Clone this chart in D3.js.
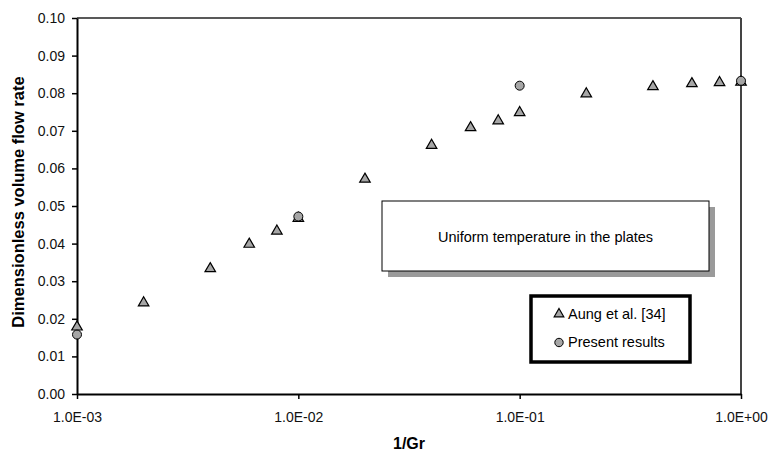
<!DOCTYPE html>
<html>
<head>
<meta charset="utf-8">
<script src="https://cdn.jsdelivr.net/npm/d3@7"></script>
<style>
  body { margin: 0; background: #fff; }
  svg { display: block; font-family: Arial, "Liberation Sans", sans-serif; }
</style>
</head>
<body>
<svg></svg>
<script>
// 1/Gr values for both series
var aungX = [0.001, 0.002, 0.004, 0.006, 0.008, 0.01, 0.02, 0.04, 0.06, 0.08, 0.1, 0.2, 0.4, 0.6, 0.8, 1.0];
var aungY = [0.0181, 0.0245, 0.0336, 0.0401, 0.0436, 0.0470, 0.0574, 0.0664, 0.0711, 0.0729, 0.0751, 0.0801, 0.0820, 0.0828, 0.0831, 0.0832];
var presentX = [0.001, 0.01, 0.1, 1.0];
var presentY = [0.0158, 0.0472, 0.0820, 0.0833];

var xTicks = [0.001, 0.01, 0.1, 1];
var xTickLabels = ["1.0E-03", "1.0E-02", "1.0E-01", "1.0E+00"];
var yTicks = [0, 0.01, 0.02, 0.03, 0.04, 0.05, 0.06, 0.07, 0.08, 0.09, 0.10];

var legendLabels = ["Aung et al. [34]", "Present results"];
var noteText = "Uniform temperature in the plates";

var svgWidth = 771, svgHeight = 453;
var margin = { top: 18, right: 30, bottom: 59, left: 77 };
var width = svgWidth - margin.left - margin.right;
var height = svgHeight - margin.top - margin.bottom;
var font = "Arial, 'Liberation Sans', sans-serif";

var svg = d3.select("svg")
    .attr("width", svgWidth)
    .attr("height", svgHeight);

var g = svg.append("g")
    .attr("transform", "translate(" + margin.left + "," + margin.top + ")");

var x = d3.scaleLog().domain([0.001, 1]).range([0, width]);
var y = d3.scaleLinear().domain([0, 0.1]).range([height, 0]);

// frame top/right
g.append("line").attr("x1", 0).attr("x2", width).attr("y1", 0).attr("y2", 0)
    .attr("stroke", "#222").attr("stroke-width", 1.5);
g.append("line").attr("x1", width).attr("x2", width).attr("y1", 0).attr("y2", height)
    .attr("stroke", "#444").attr("stroke-width", 2);

// x axis
var xAxis = g.append("g")
    .attr("transform", "translate(0," + height + ")")
    .call(d3.axisBottom(x).tickValues(xTicks)
        .tickFormat(function(d, i) { return xTickLabels[i]; })
        .tickSize(5).tickSizeOuter(0).tickPadding(13));
xAxis.select(".domain").attr("stroke-width", 2);
xAxis.selectAll(".tick line").attr("stroke-width", 1.5);
xAxis.selectAll("text").attr("font-size", 14).attr("font-family", font).attr("fill", "#111");

// y axis
var yAxis = g.append("g")
    .call(d3.axisLeft(y).tickValues(yTicks)
        .tickFormat(d3.format(".2f"))
        .tickSize(5).tickSizeOuter(0).tickPadding(7));
yAxis.select(".domain").attr("stroke-width", 2);
yAxis.selectAll(".tick line").attr("stroke-width", 1.5);
yAxis.selectAll("text").attr("font-size", 14).attr("font-family", font).attr("fill", "#111");

// axis titles
svg.append("text")
    .attr("x", margin.left + width / 2)
    .attr("y", 449)
    .attr("text-anchor", "middle")
    .attr("font-size", 16)
    .attr("font-weight", "bold")
    .text("1/Gr");

svg.append("text")
    .attr("transform", "translate(24,202) rotate(-90)")
    .attr("text-anchor", "middle")
    .attr("font-size", 16.5)
    .attr("font-weight", "bold")
    .text("Dimensionless volume flow rate");

// note box with shadow
var nb = { x: 382, y: 201, w: 327, h: 70 };
svg.append("rect").attr("x", nb.x + 6).attr("y", nb.y + 6).attr("width", nb.w).attr("height", nb.h)
    .attr("fill", "#9a9a9a");
svg.append("rect").attr("x", nb.x).attr("y", nb.y).attr("width", nb.w).attr("height", nb.h)
    .attr("fill", "#fff").attr("stroke", "#000").attr("stroke-width", 1);
svg.append("text")
    .attr("x", nb.x + nb.w / 2).attr("y", 241.5)
    .attr("text-anchor", "middle").attr("font-size", 14.5)
    .text(noteText);

// markers
var tri = d3.symbol().type(d3.symbolTriangle).size(48);
g.selectAll(".aung")
    .data(aungX.map(function(v, i) { return { x: v, y: aungY[i] }; }))
    .enter().append("path")
    .attr("class", "aung")
    .attr("transform", function(d) { return "translate(" + x(d.x) + "," + (y(d.y) + 1) + ")"; })
    .attr("d", tri)
    .attr("fill", "#a6a6a6").attr("stroke", "#000").attr("stroke-width", 1.2);

g.selectAll(".present")
    .data(presentX.map(function(v, i) { return { x: v, y: presentY[i] }; }))
    .enter().append("circle")
    .attr("class", "present")
    .attr("cx", function(d) { return x(d.x); })
    .attr("cy", function(d) { return y(d.y); })
    .attr("r", 4.5)
    .attr("fill", "#a6a6a6").attr("stroke", "#000").attr("stroke-width", 1);

// legend
var lg = svg.append("g").attr("transform", "translate(531,296)");
lg.append("rect").attr("width", 159).attr("height", 66)
    .attr("fill", "#fff").attr("stroke", "#000").attr("stroke-width", 3.5);
lg.append("path").attr("transform", "translate(28,18)").attr("d", d3.symbol().type(d3.symbolTriangle).size(40))
    .attr("fill", "#a6a6a6").attr("stroke", "#000").attr("stroke-width", 1.2);
lg.append("circle").attr("cx", 28).attr("cy", 46.5).attr("r", 4.2)
    .attr("fill", "#a6a6a6").attr("stroke", "#000").attr("stroke-width", 1);
lg.selectAll(".ltext").data(legendLabels).enter().append("text")
    .attr("x", 37).attr("y", function(d, i) { return 22.5 + i * 28.5; })
    .attr("font-size", 14.5)
    .text(function(d) { return d; });
</script>
</body>
</html>
